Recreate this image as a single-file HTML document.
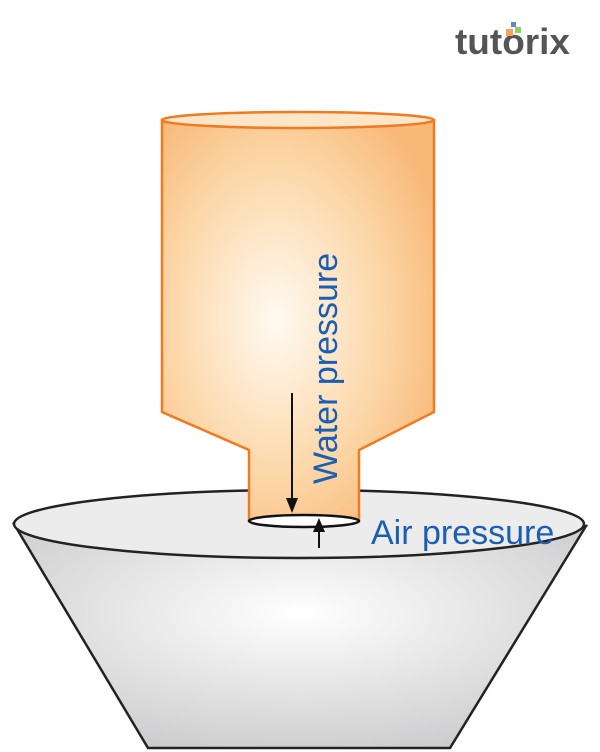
<!DOCTYPE html>
<html><head><style>body{margin:0;background:#fff}svg{display:block}</style></head><body>
<svg width="600" height="752" viewBox="0 0 600 752" xmlns="http://www.w3.org/2000/svg">
<defs>
<radialGradient id="bg" cx="0.5" cy="0.4" r="0.7"><stop offset="0" stop-color="#ffffff"/><stop offset="1" stop-color="#c8c8ca"/></radialGradient>
<radialGradient id="og" cx="0.42" cy="0.5" r="0.65"><stop offset="0" stop-color="#fffaf2"/><stop offset="0.6" stop-color="#fcd7a8"/><stop offset="1" stop-color="#f8b878"/></radialGradient>
</defs>
<path d="M14,524 L148,748 L450,748 L586,526 Z" fill="url(#bg)" stroke="#222" stroke-width="2.5"/>
<ellipse cx="299" cy="524" rx="285" ry="34" fill="#ececec" stroke="#222" stroke-width="2.5"/>
<path d="M162,120 L162,412 L249,450 L249,521 L359,521 L359,450 L434,412 L434,120 Z" fill="url(#og)" stroke="#f07a20" stroke-width="2.5"/>
<ellipse cx="298" cy="120" rx="136" ry="8" fill="#fde6c8" stroke="#f07a20" stroke-width="2.5"/>
<ellipse cx="304" cy="521" rx="55" ry="6" fill="#fff" stroke="#111" stroke-width="2.5"/>
<line x1="292" y1="393" x2="292" y2="500" stroke="#111" stroke-width="2"/>
<polygon points="286,498 298,498 292,513" fill="#111"/>
<line x1="319" y1="548" x2="319" y2="530" stroke="#111" stroke-width="2"/>
<polygon points="313,532 325,532 319,518" fill="#111"/>
<text transform="translate(337,484) rotate(-90)" font-family="Liberation Sans, sans-serif" font-size="34" fill="#1a5fb4">Water pressure</text>
<text x="371" y="544" font-family="Liberation Sans, sans-serif" font-size="34" fill="#1a5fb4">Air pressure</text>
<text x="455" y="54" font-family="Liberation Sans, sans-serif" font-size="36" font-weight="bold" fill="#555" textLength="115" lengthAdjust="spacingAndGlyphs">tutorix</text>
<rect x="511" y="22" width="5" height="5" fill="#6a7de0"/>
<rect x="506" y="29" width="7" height="7" fill="#f4a460"/>
<rect x="515" y="27" width="6" height="6" fill="#8fd060"/>
</svg>
</body></html>
